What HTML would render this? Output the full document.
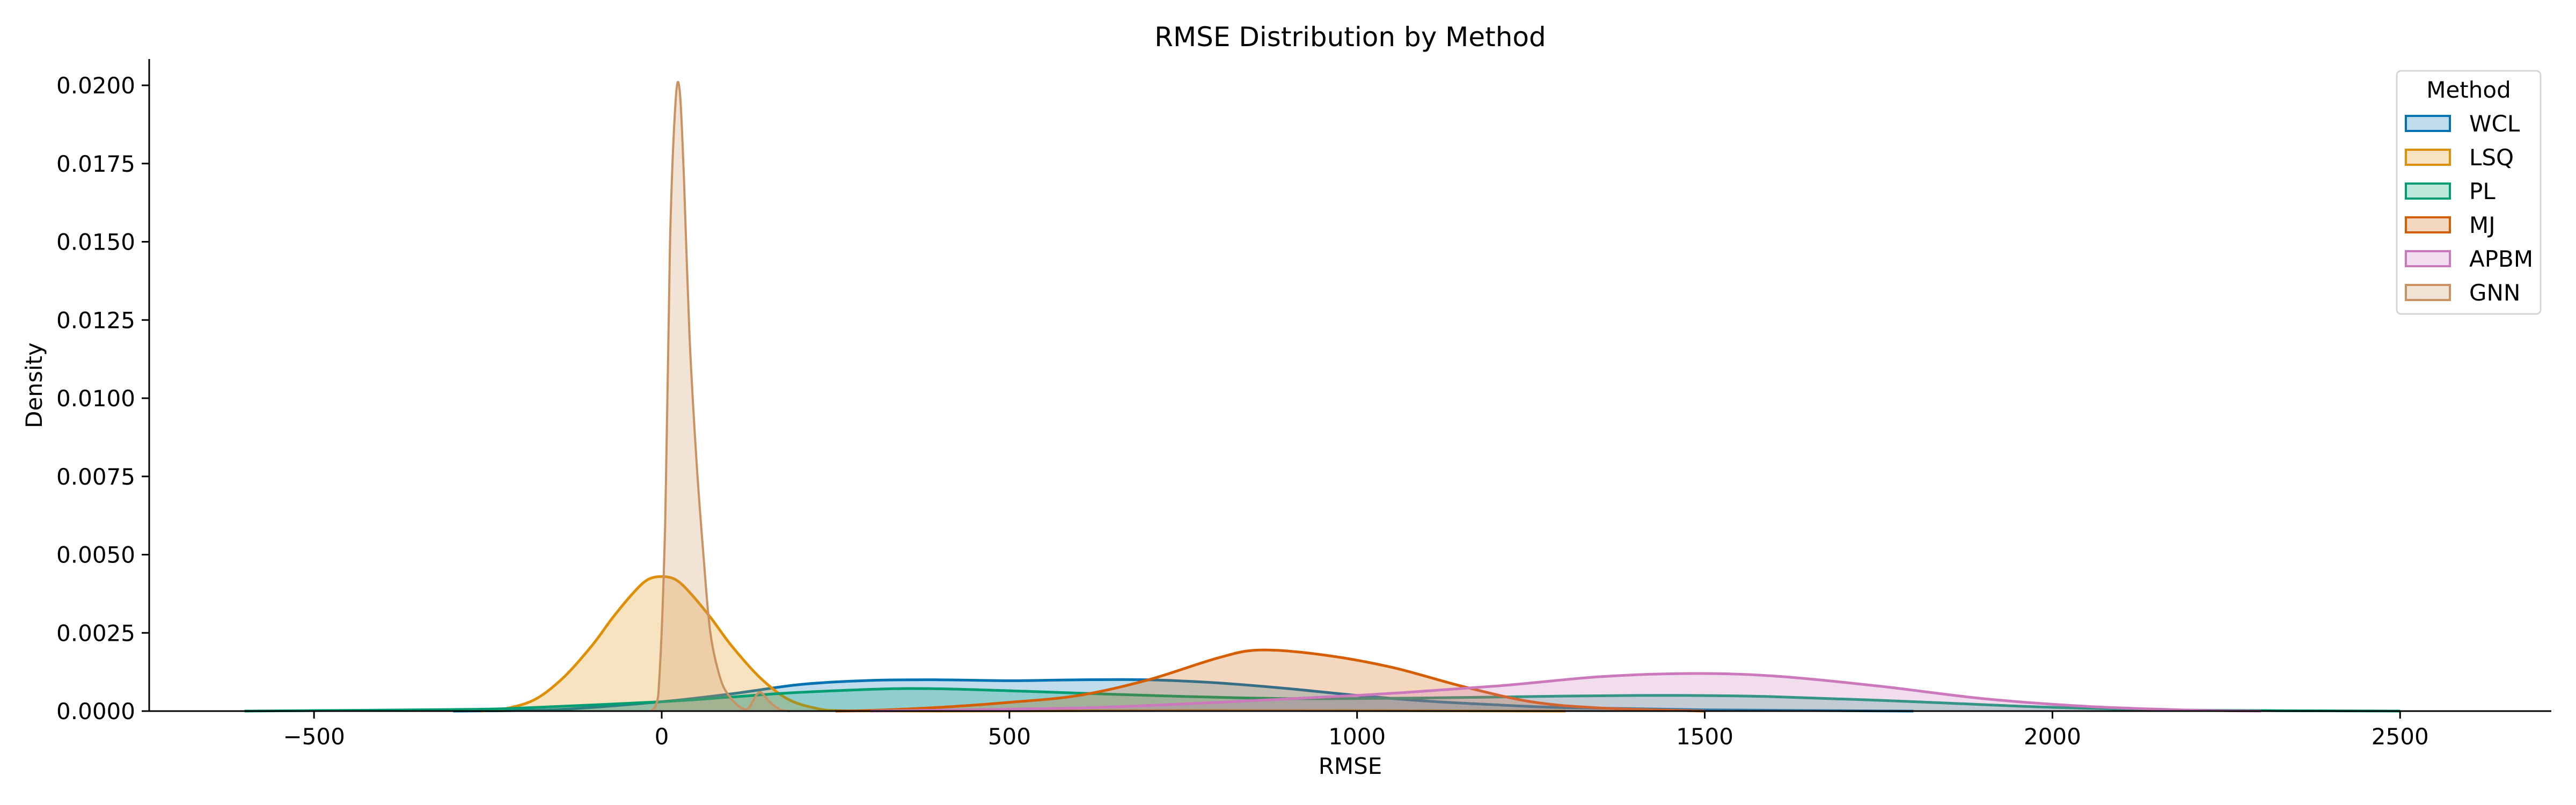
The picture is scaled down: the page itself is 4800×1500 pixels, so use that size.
<!DOCTYPE html>
<html><head><meta charset="utf-8">
<style>
html,body{margin:0;padding:0;background:#fff;}
svg{display:block;font-family:"DejaVu Sans","Liberation Sans",sans-serif;}
</style></head>
<body>
<svg id="chart" width="4800" height="1500" viewBox="0 0 4800 1500" xmlns="http://www.w3.org/2000/svg">
<rect width="4800" height="1500" fill="#fff"/>
<text x="2516" y="86" font-size="50" text-anchor="middle">RMSE Distribution by Method</text>
<g id="marks"></g>
<g id="axes"></g>
<text x="2516" y="1442" font-size="42" text-anchor="middle">RMSE</text>
<text x="0" y="0" font-size="42" text-anchor="middle" transform="translate(78,718) rotate(-90)">Density</text>
<g id="legend"></g>
</svg>
<script>
const methods = ["WCL","LSQ","PL","MJ","APBM","GNN"];
const colors = ["#0173b2","#de8f05","#029e73","#d55e00","#cc78bc","#ca9161"];
const xTicks = [-500,0,500,1000,1500,2000,2500];
const yTicks = [0,0.0025,0.005,0.0075,0.01,0.0125,0.015,0.0175,0.02];
const yTickLabels = ["0.0000","0.0025","0.0050","0.0075","0.0100","0.0125","0.0150","0.0175","0.0200"];

const wclX = [-300,-150,0,100,200,300,400,500,600,700,800,900,1000,1100,1200,1300,1500,1800];
const wclY = [0,0.00005,0.0003,0.00055,0.00085,0.00098,0.001,0.00097,0.001,0.001,0.0009,0.00072,0.0005,0.00032,0.0002,0.00011,0.00004,0];
const lsqX = [-260,-220,-180,-140,-100,-70,-40,-20,0,20,40,70,100,140,180,220,260,400,800,1300];
const lsqY = [0,0.0001,0.0004,0.0011,0.0021,0.003,0.0038,0.0042,0.0043,0.0042,0.0038,0.003,0.0021,0.0011,0.0004,0.0001,0.00001,0,0.00002,0];
const plX = [-600,-300,-200,0,100,200,350,500,700,900,1100,1300,1450,1600,1800,2000,2200,2500];
const plY = [0,0.00005,0.0001,0.0003,0.00045,0.0006,0.00072,0.00065,0.0005,0.0004,0.00042,0.00048,0.0005,0.00046,0.0003,0.00012,0.00003,0];
const mjX = [250,300,400,500,600,700,800,860,950,1050,1150,1250,1350,1500];
const mjY = [0,0.00002,0.00012,0.00028,0.0005,0.001,0.0017,0.00195,0.0018,0.0014,0.0008,0.0003,0.0001,0];
const apbmX = [300,600,800,1000,1200,1350,1480,1600,1750,1900,2050,2200,2300];
const apbmY = [0,0.0001,0.00028,0.0005,0.0008,0.0011,0.0012,0.00112,0.0008,0.0004,0.00015,0.00003,0];
const gnnX = [-15,-5,5,12,20,26,32,40,50,60,70,85,100,115,125,140,155,170,185];
const gnnY = [0,0.0005,0.006,0.015,0.0195,0.0198,0.017,0.012,0.008,0.005,0.0025,0.001,0.0004,0.0001,0.0001,0.0006,0.0003,0.00005,0];
const seriesX = [wclX,lsqX,plX,mjX,apbmX,gnnX];
const seriesY = [wclY,lsqY,plY,mjY,apbmY,gnnY];

const NS = "http://www.w3.org/2000/svg";
const L = 278, R = 4754, T = 110, B = 1325;
function xs(v){ return 1233 + v * 1.2957; }
function ys(v){ return B - v * 58300; }
function mk(tag, attrs, parent){ const e = document.createElementNS(NS, tag); for (const k in attrs) e.setAttribute(k, attrs[k]); parent.appendChild(e); return e; }

function smoothPath(pts){
  let d = "M" + pts[0][0].toFixed(1) + "," + pts[0][1].toFixed(1);
  for (let i = 0; i < pts.length - 1; i++){
    const p0 = pts[Math.max(0,i-1)], p1 = pts[i], p2 = pts[i+1], p3 = pts[Math.min(pts.length-1,i+2)];
    const c1x = p1[0] + (p2[0]-p0[0])/6, c1y = Math.min(B, p1[1] + (p2[1]-p0[1])/6);
    const c2x = p2[0] - (p3[0]-p1[0])/6, c2y = Math.min(B, p2[1] - (p3[1]-p1[1])/6);
    d += " C" + c1x.toFixed(1) + "," + c1y.toFixed(1) + " " + c2x.toFixed(1) + "," + c2y.toFixed(1) + " " + p2[0].toFixed(1) + "," + p2[1].toFixed(1);
  }
  return d;
}

const marks = document.getElementById("marks");
methods.forEach((m, i) => {
  const pts = seriesX[i].map((x, j) => [xs(x), ys(seriesY[i][j])]);
  const line = smoothPath(pts);
  const area = mk("path", {d: line + " L" + pts[pts.length-1][0].toFixed(1) + "," + B + " L" + pts[0][0].toFixed(1) + "," + B + " Z", fill: colors[i], "fill-opacity": 0.25, stroke: "none"}, marks);
  
  
  const ln = mk("path", {d: line, fill: "none", stroke: colors[i], "stroke-width": i === 5 ? 4 : 5, "stroke-linejoin": "round"}, marks);
  
  
});

const axes = document.getElementById("axes");
const yl = mk("line", {x1: L, y1: T, x2: L, y2: B, stroke: "#000", "stroke-width": 3}, axes);


const xl = mk("line", {x1: L, y1: B, x2: R, y2: B, stroke: "#000", "stroke-width": 3}, axes);


xTicks.forEach(v => {
  const t = mk("line", {x1: xs(v), y1: B, x2: xs(v), y2: B + 14, stroke: "#000", "stroke-width": 3}, axes);
  
  
  const tx = mk("text", {x: xs(v), y: B + 62, "font-size": 42, "text-anchor": "middle"}, axes);
  tx.textContent = v < 0 ? "\u2212" + Math.abs(v) : String(v);
  
  
});
yTicks.forEach((v, i) => {
  const t = mk("line", {x1: L - 14, y1: ys(v), x2: L, y2: ys(v), stroke: "#000", "stroke-width": 3}, axes);
  
  
  const tx = mk("text", {x: L - 26, y: ys(v) + 15, "font-size": 42, "text-anchor": "end"}, axes);
  tx.textContent = yTickLabels[i];
  
  
});

const lg = document.getElementById("legend");
const box = mk("rect", {x: 4466, y: 132, width: 268, height: 453, rx: 8, fill: "#fff", "fill-opacity": 0.8, stroke: "#d5d5d5", "stroke-width": 3}, lg);


const lt = mk("text", {x: 4600, y: 182, "font-size": 42, "text-anchor": "middle"}, lg);
lt.textContent = "Method";


methods.forEach((m, i) => {
  const cy = 230 + i * 63;
  const g = mk("g", {}, lg);
  
  
  mk("rect", {x: 4483, y: cy - 14, width: 82, height: 28, fill: colors[i], "fill-opacity": 0.25, stroke: colors[i], "stroke-width": 4}, g);
  const tx = mk("text", {x: 4601, y: cy + 15, "font-size": 42}, g);
  tx.textContent = m;
});
</script>
</body></html>
